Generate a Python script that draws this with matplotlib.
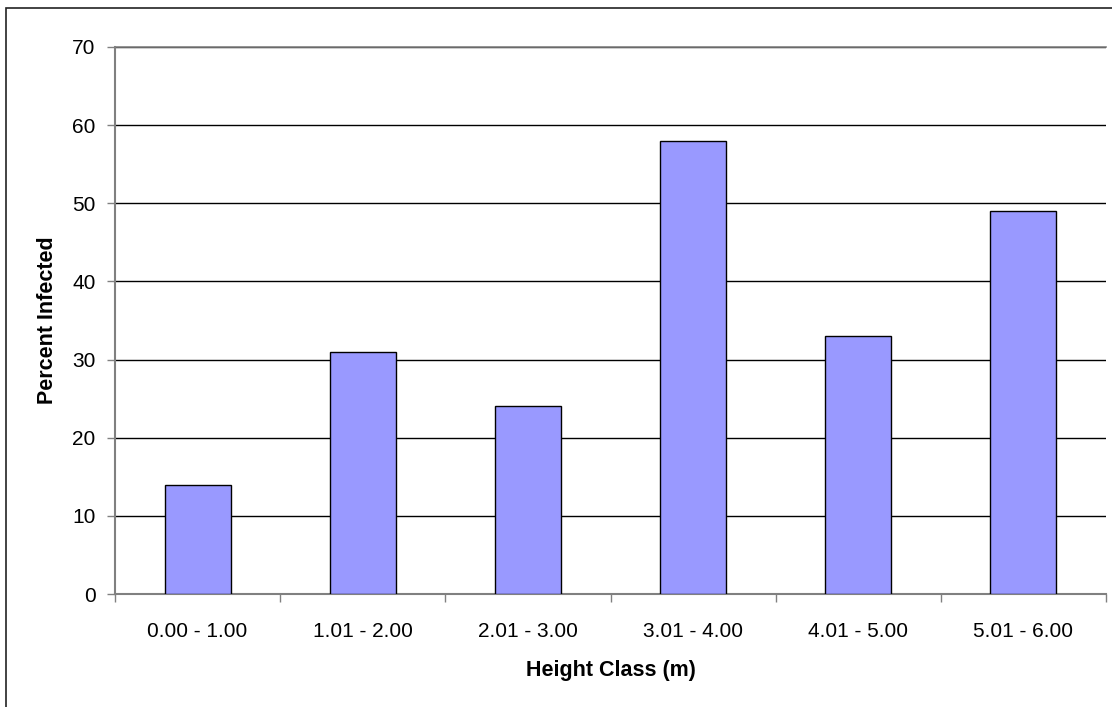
import matplotlib.pyplot as plt
from matplotlib.patches import Rectangle
import numpy as np

plt.rcParams['font.family'] = ['Liberation Sans', 'DejaVu Sans']

# percent of trees infected in each height class
height_classes = ["0.00 - 1.00", "1.01 - 2.00", "2.01 - 3.00",
                  "3.01 - 4.00", "4.01 - 5.00", "5.01 - 6.00"]
percent_infected = [14, 31, 24, 58, 33, 49]
y_ticks = [0, 10, 20, 30, 40, 50, 60, 70]

fig = plt.figure(figsize=(11.12, 7.07), dpi=100)
ax = fig.add_axes([115 / 1112, 113 / 707, 991 / 1112, 547 / 707])

# chart area frame
fig.patches.append(Rectangle((6 / 1112, -0.1), 1.2, (707 - 8) / 707 + 0.1,
                             transform=fig.transFigure, fill=False,
                             edgecolor="#222222", linewidth=1.2))

x = np.arange(len(height_classes))
ax.bar(x, percent_infected, width=0.4, color="#9999FF",
       edgecolor="black", linewidth=1, zorder=3)

ax.set_xlim(-0.5, len(height_classes) - 0.5)
ax.set_ylim(0, 70)
ax.set_yticks(y_ticks)
ax.yaxis.grid(True, color="black", linewidth=1, zorder=0)
ax.set_axisbelow(True)

# labels sit at the centres, tick marks at the category boundaries
ax.set_xticks(x)
ax.set_xticklabels(height_classes)
ax.set_xticks(np.arange(len(height_classes) + 1) - 0.5, minor=True)
ax.tick_params(axis="x", which="major", length=0, pad=20, labelsize=15)
ax.tick_params(axis="x", which="minor", length=6, width=1, color="#808080")
ax.tick_params(axis="y", length=6, width=1, color="#808080", pad=8,
               labelsize=15)

ax.spines["right"].set_visible(False)
ax.spines["top"].set_color("#808080")
ax.spines["top"].set_linewidth(1.2)
ax.spines["top"].set_zorder(2)
ax.spines["left"].set_color("#808080")
ax.spines["left"].set_linewidth(1.5)
ax.spines["bottom"].set_color("#808080")
ax.spines["bottom"].set_linewidth(1.5)

ax.set_xlabel("Height Class (m)", fontsize=15.5, fontweight="bold", labelpad=14)
ax.set_ylabel("Percent Infected", fontsize=15.5, fontweight="bold", labelpad=10)

fig.savefig("out.png", dpi=100)
